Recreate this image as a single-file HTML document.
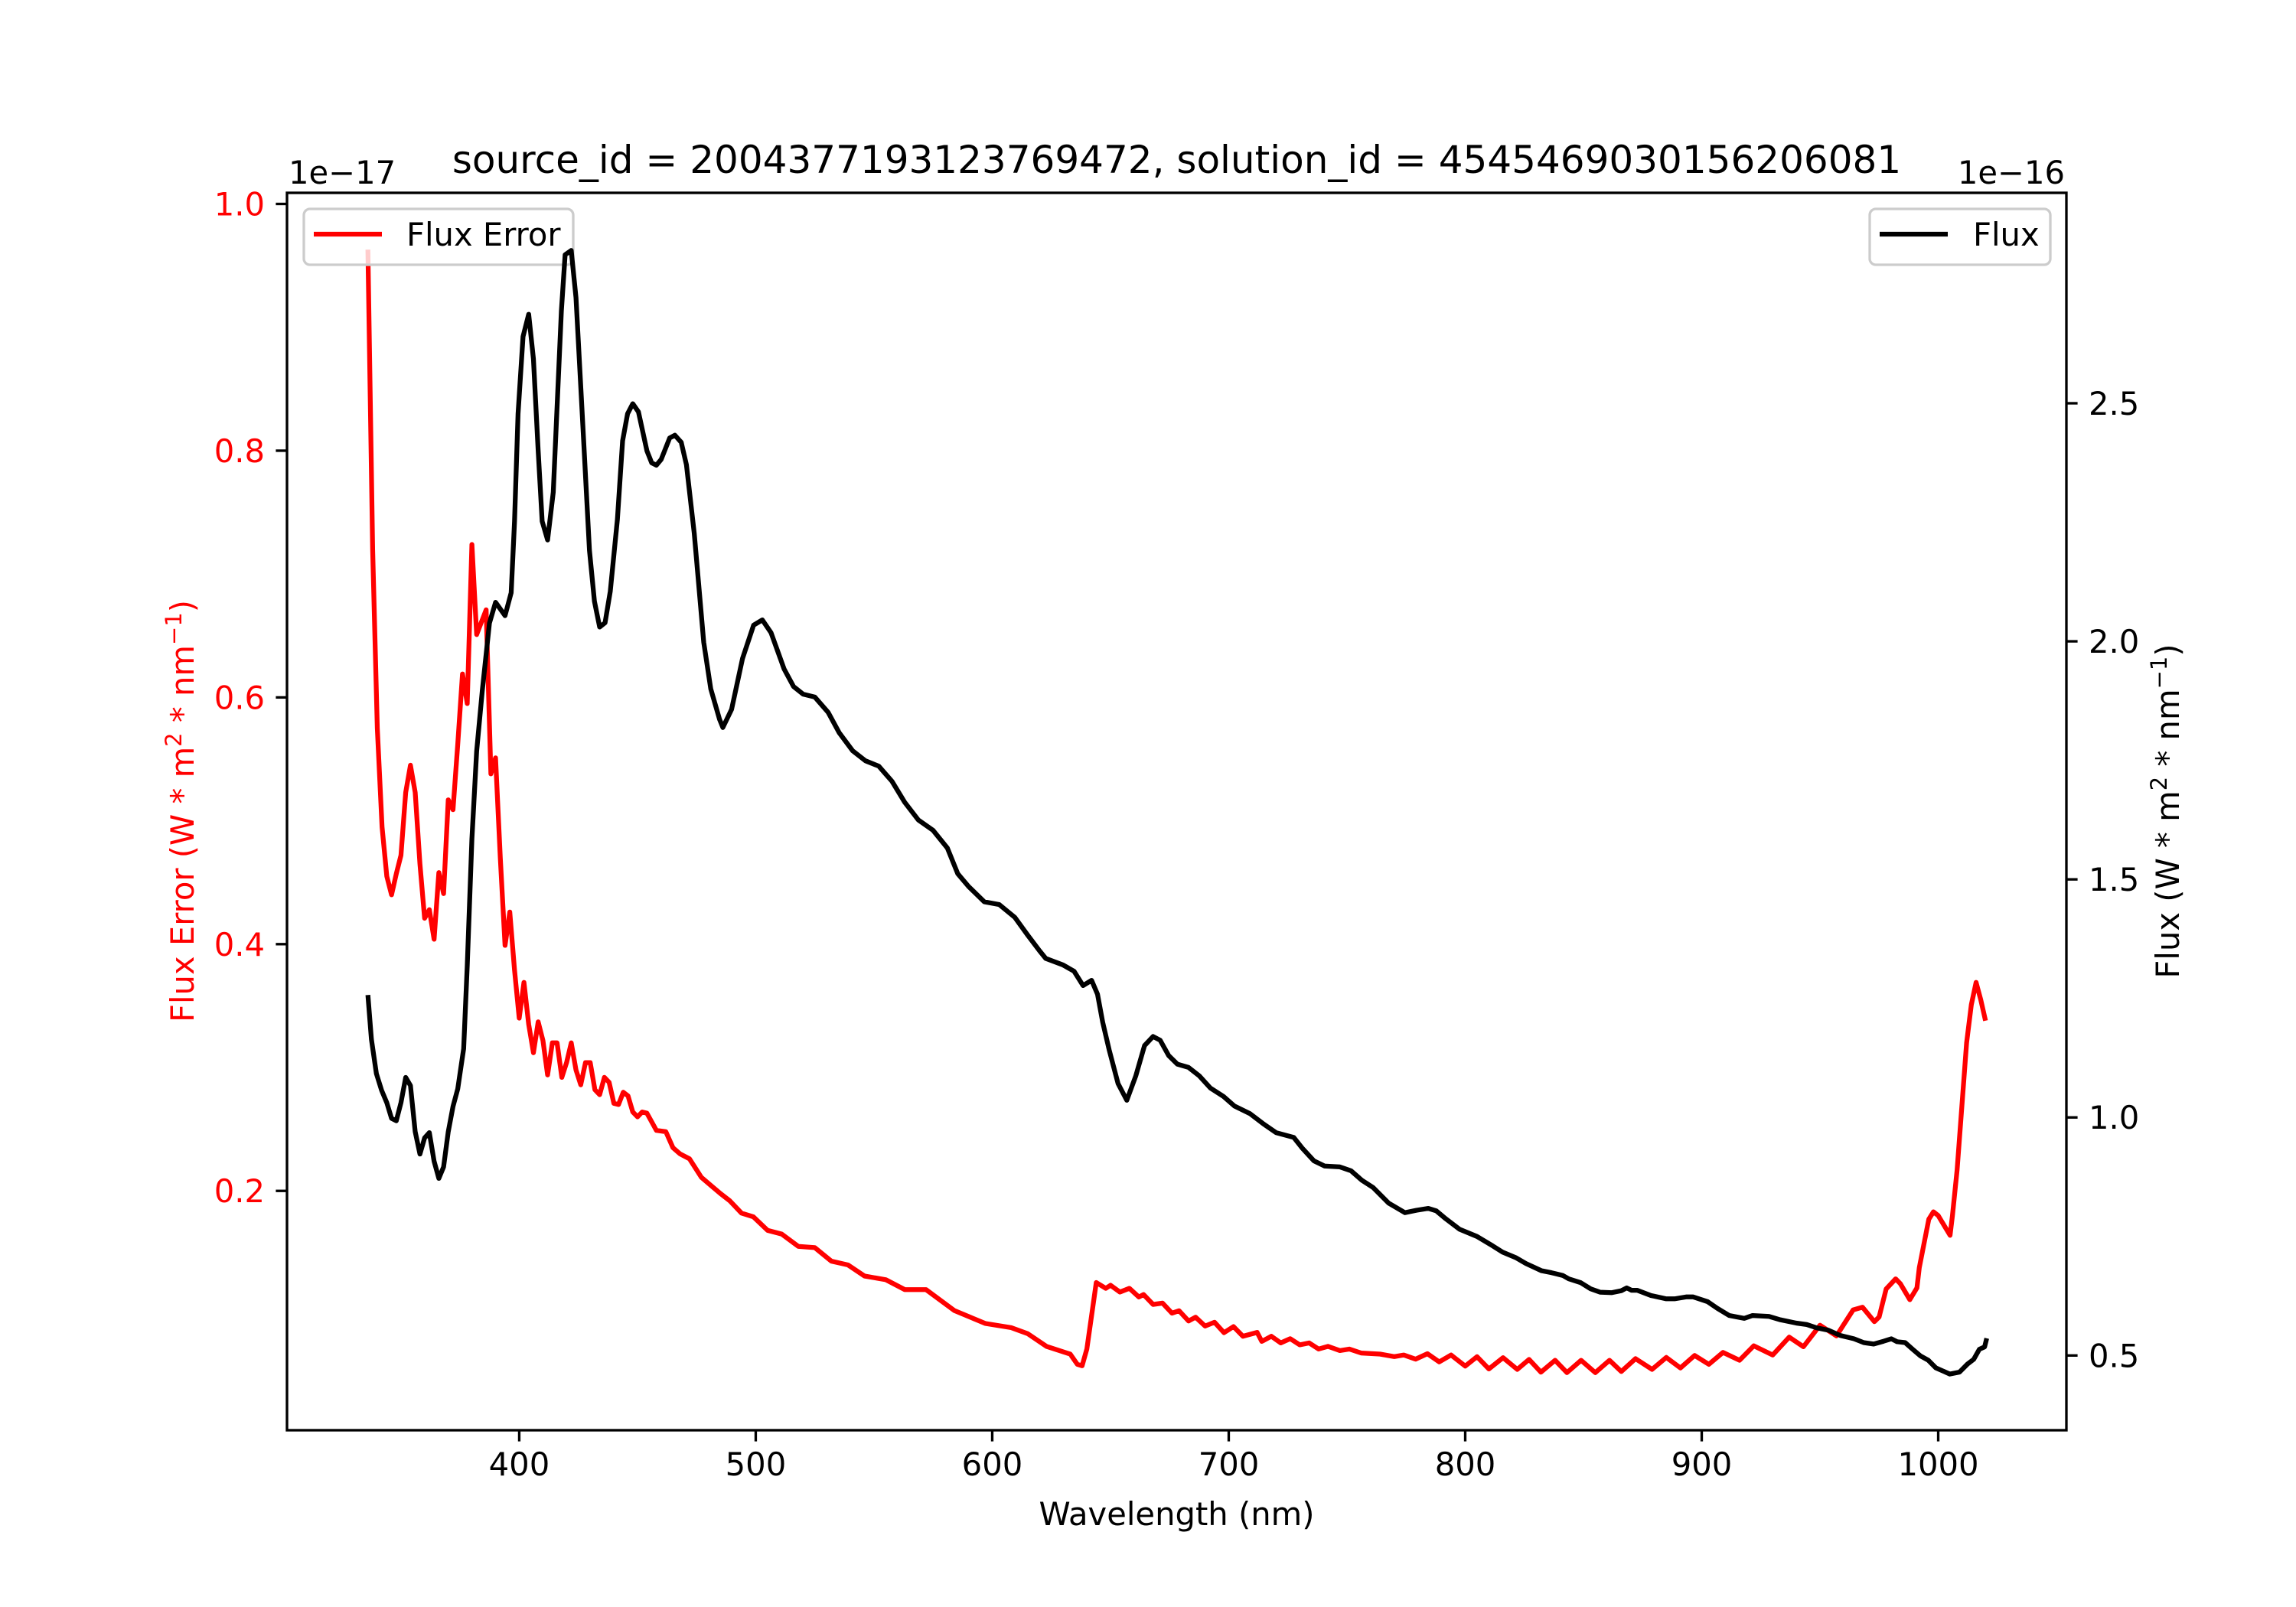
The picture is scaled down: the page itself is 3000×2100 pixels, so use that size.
<!DOCTYPE html>
<html><head><meta charset="utf-8"><style>
html,body{margin:0;padding:0;background:#fff}
svg{display:block;font-family:"DejaVu Sans","Liberation Sans",sans-serif}
</style></head><body>
<svg id="chart" width="3000" height="2100" viewBox="0 0 3000 2100" xmlns="http://www.w3.org/2000/svg">
<rect width="3000" height="2100" fill="#fff"/>
<g id="lines"></g>
<g id="axes"></g>
</svg>
<script>
const errWave = [336,338,340,342,344,346,348,350,352,354,356,358,360,362,364,366,368,370,372,374,376,378,380,382,384,386,388,390,392,394,396,398,400,402,404,406,408,410,412,414,416,418,420,422,424,426,428,430,432,434,436,438,440,442,444,446,448,450,452,454,458,462,465,468,472,477,481,485,489,494,499,505,511,518,525,532,539,546,555,563,572,584,597,608,615,623,633,636,638,640,644,648,650,654,658,662,664,668,672,676,679,683,686,690,694,698,702,706,712,714,718,722,726,730,734,738,742,747,751,756,764,770,774,779,784,789,794,800,805,810,816,822,827,832,838,843,849,855,861,866,872,879,885,891,897,903,909,916,922,930,937,943,950,957,964,968,973,975,978,982,984,988,991,992,996,998,1000,1005,1006,1008,1012,1014,1016,1018,1020];
const errValues = [0.963,0.72,0.575,0.495,0.455,0.44,0.457,0.472,0.523,0.545,0.523,0.465,0.421,0.428,0.404,0.458,0.441,0.517,0.509,0.562,0.619,0.595,0.724,0.651,0.661,0.671,0.538,0.551,0.47,0.399,0.426,0.379,0.340,0.369,0.335,0.312,0.337,0.322,0.294,0.320,0.320,0.292,0.304,0.320,0.298,0.286,0.304,0.304,0.282,0.278,0.292,0.288,0.271,0.270,0.280,0.277,0.264,0.260,0.264,0.263,0.249,0.248,0.235,0.230,0.226,0.211,0.2045,0.198,0.192,0.182,0.179,0.168,0.165,0.155,0.154,0.143,0.140,0.131,0.128,0.120,0.120,0.103,0.0926,0.0892,0.0843,0.0739,0.0677,0.0594,0.0582,0.0718,0.1257,0.121,0.1235,0.118,0.121,0.114,0.116,0.108,0.109,0.1009,0.1028,0.0946,0.0976,0.0904,0.0935,0.0851,0.0900,0.0822,0.0853,0.078,0.0822,0.0768,0.0802,0.0752,0.0768,0.0718,0.074,0.0706,0.0718,0.0686,0.0677,0.0657,0.067,0.0636,0.068,0.0614,0.067,0.058,0.0656,0.0557,0.0648,0.0553,0.0634,0.0531,0.0627,0.0527,0.0627,0.0527,0.0627,0.0536,0.064,0.0553,0.065,0.0565,0.0666,0.0594,0.0691,0.0627,0.0744,0.067,0.0814,0.0737,0.0911,0.0825,0.1035,0.1057,0.094,0.0978,0.1205,0.1287,0.1247,0.1118,0.1214,0.1378,0.177,0.183,0.180,0.164,0.180,0.217,0.320,0.351,0.369,0.355,0.338];
const fluxWave = [336,337.5,339.6,341.8,344,346,348,350,352,354,356,358,360,362,364,366,368,370,372,374,376.5,378,380,382,384.4,387.4,390,394,396.6,398,399.5,401.6,404,406,408,409.7,412,414.4,417.8,419.4,422,424,427,429.7,431.8,434,436.3,438.5,441.5,443.7,445.8,448,450.4,454,456,458,460,463.6,465.8,468.5,470.7,474,478,481,484.7,486.1,489.8,494.4,499.1,502.8,506.5,512,516,520,525,530.6,535.3,541,546.4,552,557.6,563,568.7,575,581,585.4,590,596.6,603,609.6,615,620,622.6,630,634.6,638.4,642,644.5,646.7,649.5,653.2,656.9,660.7,664.4,668,671,674.6,678.3,683,687.6,692.2,697.8,702.4,709,714.5,720,727.5,731,736,740.5,747,751.7,756.3,761,767.6,774.5,779.4,784.4,787.7,791.8,797.6,805,811.7,815.8,821.6,825.7,832.3,836.4,841.3,843.8,848.8,853,857,862,866,868.3,870.3,872.7,878.5,885,888.5,893.4,896.4,902.5,906.6,911.6,918,921.5,928.4,933.3,940,944.4,948.6,953.6,958.6,964.4,968.5,972.7,976.9,980.2,982.6,986,989.2,992.5,995.8,999,1004.9,1009,1012.4,1015,1017.4,1019.6,1020.5];
const fluxValues = [1.257,1.164,1.092,1.057,1.031,0.998,0.993,1.031,1.084,1.067,0.97,0.923,0.957,0.968,0.908,0.872,0.896,0.970,1.023,1.060,1.144,1.318,1.585,1.769,1.897,2.038,2.082,2.054,2.102,2.252,2.478,2.640,2.687,2.593,2.400,2.252,2.213,2.313,2.694,2.812,2.821,2.722,2.443,2.191,2.084,2.030,2.039,2.105,2.256,2.421,2.478,2.499,2.482,2.400,2.375,2.370,2.382,2.427,2.433,2.418,2.371,2.227,1.998,1.90,1.836,1.819,1.857,1.964,2.034,2.045,2.018,1.942,1.905,1.889,1.883,1.851,1.808,1.770,1.749,1.738,1.706,1.662,1.625,1.603,1.566,1.512,1.485,1.453,1.447,1.420,1.383,1.350,1.334,1.320,1.307,1.277,1.288,1.259,1.2,1.141,1.071,1.036,1.087,1.151,1.170,1.162,1.130,1.112,1.105,1.087,1.062,1.044,1.024,1.008,0.987,0.968,0.958,0.936,0.909,0.898,0.896,0.888,0.868,0.853,0.82,0.800,0.805,0.809,0.804,0.787,0.765,0.750,0.730,0.717,0.705,0.693,0.678,0.674,0.668,0.661,0.653,0.640,0.633,0.632,0.636,0.642,0.637,0.637,0.626,0.619,0.619,0.623,0.623,0.613,0.599,0.584,0.578,0.584,0.582,0.575,0.568,0.565,0.558,0.553,0.542,0.535,0.527,0.524,0.530,0.535,0.529,0.527,0.513,0.499,0.490,0.474,0.461,0.465,0.482,0.492,0.513,0.518,0.536];
const xTicks = [400,500,600,700,800,900,1000];
const xTickLabels = ["400","500","600","700","800","900","1000"];
const leftTicks = [0.2,0.4,0.6,0.8,1.0];
const leftTickLabels = ["0.2","0.4","0.6","0.8","1.0"];
const rightTicks = [0.5,1.0,1.5,2.0,2.5];
const rightTickLabels = ["0.5","1.0","1.5","2.0","2.5"];

const NS = "http://www.w3.org/2000/svg";
const L = 375, R = 2700, T = 252, B = 1869;
const xMin = 301.8, xMax = 1054.2, lMin = 0.006, lMax = 1.009, rMin = 0.343, rMax = 2.942;
function xs(v){ return L + (v - xMin) / (xMax - xMin) * (R - L); }
function yl(v){ return B - (v - lMin) / (lMax - lMin) * (B - T); }
function yr(v){ return B - (v - rMin) / (rMax - rMin) * (B - T); }
function mk(tag, attrs, parent){ const e = document.createElementNS(NS, tag); for (const k in attrs) e.setAttribute(k, attrs[k]); parent.appendChild(e); return e; }
function txt(s, attrs, parent){ const e = mk("text", attrs, parent); e.textContent = s; return e; }

const lines = document.getElementById("lines");
const axes = document.getElementById("axes");

let d = errWave.map((w,i)=>(i?"L":"M")+xs(w).toFixed(1)+","+yl(errValues[i]).toFixed(1)).join(" ");
const errPath = mk("path", {d:d, fill:"none", stroke:"#ff0000", "stroke-width":6.25, "stroke-linejoin":"round"}, lines);



const lg1 = mk("g", {}, lines);


mk("rect", {x:397, y:273, width:352, height:73, rx:8, fill:"#fff", "fill-opacity":0.8, stroke:"#cccccc", "stroke-width":3.3}, lg1);
mk("line", {x1:410, y1:306, x2:499, y2:306, stroke:"#ff0000", "stroke-width":6.25}, lg1);
txt("Flux Error", {x:531, y:321, "font-size":41.7, fill:"#000"}, lg1);

d = fluxWave.map((w,i)=>(i?"L":"M")+xs(w).toFixed(1)+","+yr(fluxValues[i]).toFixed(1)).join(" ");
const fluxPath = mk("path", {d:d, fill:"none", stroke:"#000", "stroke-width":6.25, "stroke-linejoin":"round"}, lines);



const lg2 = mk("g", {}, lines);


mk("rect", {x:2443, y:273, width:236, height:73, rx:8, fill:"#fff", "fill-opacity":0.8, stroke:"#cccccc", "stroke-width":3.3}, lg2);
mk("line", {x1:2456, y1:306, x2:2545, y2:306, stroke:"#000", "stroke-width":6.25}, lg2);
txt("Flux", {x:2578, y:321, "font-size":41.7, fill:"#000"}, lg2);

const fr = mk("rect", {x:L, y:T, width:R-L, height:B-T, fill:"none", stroke:"#000", "stroke-width":3.33}, axes);



xTicks.forEach((v,i)=>{
  const x = xs(v);
  const t = mk("line", {x1:x, y1:B, x2:x, y2:B+14.6, stroke:"#000", "stroke-width":3.33}, axes);
  
  
  const lb = txt(xTickLabels[i], {x:x, y:1928, "font-size":41.7, "text-anchor":"middle", fill:"#000"}, axes);
  
  
});
leftTicks.forEach((v,i)=>{
  const y = yl(v);
  const t = mk("line", {x1:L-14.6, y1:y, x2:L, y2:y, stroke:"#000", "stroke-width":3.33}, axes);
  
  
  const lb = txt(leftTickLabels[i], {x:346, y:y+15, "font-size":41.7, "text-anchor":"end", fill:"#ff0000"}, axes);
  
  
});
rightTicks.forEach((v,i)=>{
  const y = yr(v);
  const t = mk("line", {x1:R, y1:y, x2:R+14.6, y2:y, stroke:"#000", "stroke-width":3.33}, axes);
  
  
  const lb = txt(rightTickLabels[i], {x:2729, y:y+15, "font-size":41.7, "text-anchor":"start", fill:"#000"}, axes);
  
  
});
</script>
<svg style="position:absolute;left:0;top:0" width="3000" height="2100" viewBox="0 0 3000 2100" xmlns="http://www.w3.org/2000/svg" font-family="DejaVu Sans, Liberation Sans, sans-serif">
<text x="1537.5" y="226" font-size="50" text-anchor="middle" fill="#000">source_id = 2004377193123769472, solution_id = 4545469030156206081</text>
<text x="377" y="240" font-size="41.7" fill="#000">1e−17</text>
<text x="2698" y="240" font-size="41.7" text-anchor="end" fill="#000">1e−16</text>
<text x="1537.5" y="1993" font-size="41.7" text-anchor="middle" fill="#000">Wavelength (nm)</text>
<text transform="translate(253,1060) rotate(-90)" font-size="41.7" text-anchor="middle" fill="#ff0000">Flux Error (W * m<tspan font-size="29" dy="-16">2</tspan><tspan dy="16"> * nm</tspan><tspan font-size="29" dy="-16">−1</tspan><tspan dy="16">)</tspan></text>
<text transform="translate(2847,1060) rotate(-90)" font-size="41.7" text-anchor="middle" fill="#000">Flux (W * m<tspan font-size="29" dy="-16">2</tspan><tspan dy="16"> * nm</tspan><tspan font-size="29" dy="-16">−1</tspan><tspan dy="16">)</tspan></text>
</svg>
</body></html>
